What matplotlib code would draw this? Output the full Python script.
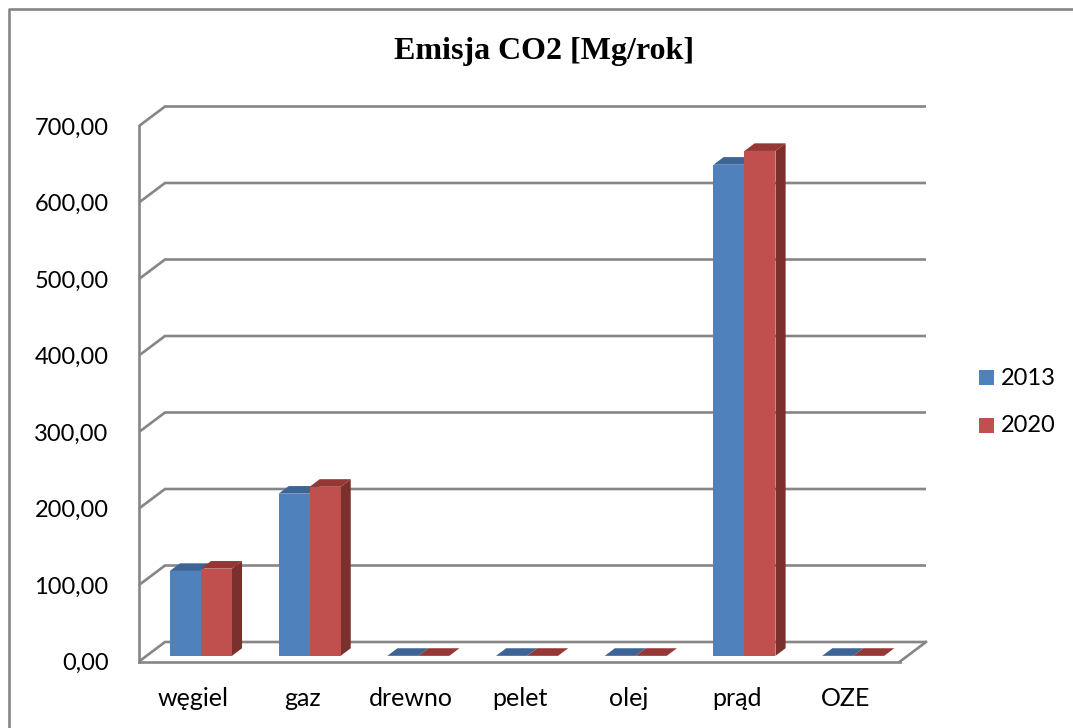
import matplotlib
matplotlib.use('Agg')
import matplotlib.pyplot as plt
from matplotlib.patches import Polygon, Rectangle

# values
categories = ['węgiel', 'gaz', 'drewno', 'pelet', 'olej', 'prąd', 'OZE']
emisja_2013 = [111, 212, 0, 0, 0, 642, 0]
emisja_2020 = [114, 221, 0, 0, 0, 660, 0]
y_ticks = [0, 100, 200, 300, 400, 500, 600, 700]
series_names = ['2013', '2020']

W, H = 1073, 728
GRID = '#868686'
LW = 1.9
BLUE, BLUE_TOP = '#4f81bd', '#3c6596'
RED, RED_TOP, RED_SIDE = '#c0504d', '#953735', '#7b302e'

fig = plt.figure(figsize=(W / 100, H / 100), dpi=100)
# front plane of the fake 3D box
ax = fig.add_axes([139 / W, (H - 661.5) / H, 761 / W, 535.5 / H])
ax.set_xlim(0, 7)
ax.set_ylim(0, 700)
ax.patch.set_visible(False)

# depth of the box in data units
DX = 26 / (761 / 7)
DY = 19.5 / (535.5 / 700)


def proj(x, v, d):
    return x + d * DX, v + d * DY


# walls
for v in y_ticks:
    x0, y0 = proj(0, v, 1)
    x1, y1 = proj(7, v, 1)
    ax.plot([0, x0, x1], [v, y0, y1], color=GRID, lw=LW, clip_on=False,
            solid_joinstyle='miter', solid_capstyle='butt', zorder=1)
ax.plot([7, proj(7, 0, 1)[0]], [0, proj(7, 0, 1)[1]], color=GRID, lw=LW,
        clip_on=False, zorder=1)

# bars
bar_w = 31 / (761 / 7)
d0, d1 = 0.29, 0.68


def bar3d(x, v, col, top, side):
    a, b = x, x + bar_w
    ax.add_patch(Polygon([proj(a, v, d0), proj(b, v, d0), proj(b, v, d1), proj(a, v, d1)],
                         fc=top, ec='none', clip_on=False, zorder=3))
    if side is not None and v > 0:
        ax.add_patch(Polygon([proj(b, 0, d0), proj(b, 0, d1), proj(b, v, d1), proj(b, v, d0)],
                             fc=side, ec='none', clip_on=False, zorder=3))
    if v > 0:
        ax.add_patch(Polygon([proj(a, 0, d0), proj(b, 0, d0), proj(b, v, d0), proj(a, v, d0)],
                             fc=col, ec='none', clip_on=False, zorder=4))


for i in range(len(categories)):
    left = i + 0.5 - bar_w
    bar3d(left, emisja_2013[i], BLUE, BLUE_TOP, None)
    bar3d(left + bar_w, emisja_2020[i], RED, RED_TOP, RED_SIDE)

# axes
font = 'Lato'
for s in ['top', 'right']:
    ax.spines[s].set_visible(False)
for s in ['left', 'bottom']:
    ax.spines[s].set_color(GRID)
    ax.spines[s].set_linewidth(LW)
ax.set_yticks(y_ticks)
ax.set_yticklabels(['%d,00' % v for v in y_ticks], fontsize=17, family=font, color='black')
ax.set_xticks([i + 0.5 for i in range(len(categories))])
ax.set_xticklabels(categories, fontsize=18, family=font, color='black')
ax.tick_params(axis='both', length=0)
ax.tick_params(axis='y', pad=22)
ax.tick_params(axis='x', pad=18)

# title and legend
fig.text(544 / W, 1 - 51 / H, 'Emisja CO2 [Mg/rok]', ha='center', va='center',
         family='Liberation Serif', fontweight='bold', fontsize=23)
for name, col, yc in zip(series_names, [BLUE, RED], [377.5, 425.5]):
    fig.add_artist(Rectangle((979 / W, 1 - (yc + 7.5) / H), 15 / W, 15 / H,
                             transform=fig.transFigure, fc=col, ec='none'))
    fig.text(1001 / W, 1 - (yc + 0.5) / H, name, ha='left', va='center', family=font, fontsize=17)

# chart frame
fig.add_artist(plt.Line2D([8.5 / W, 8.5 / W, 1], [0, 1 - 8.5 / H, 1 - 8.5 / H],
                          transform=fig.transFigure, color=GRID, lw=LW))

fig.savefig('out.png', dpi=100)
